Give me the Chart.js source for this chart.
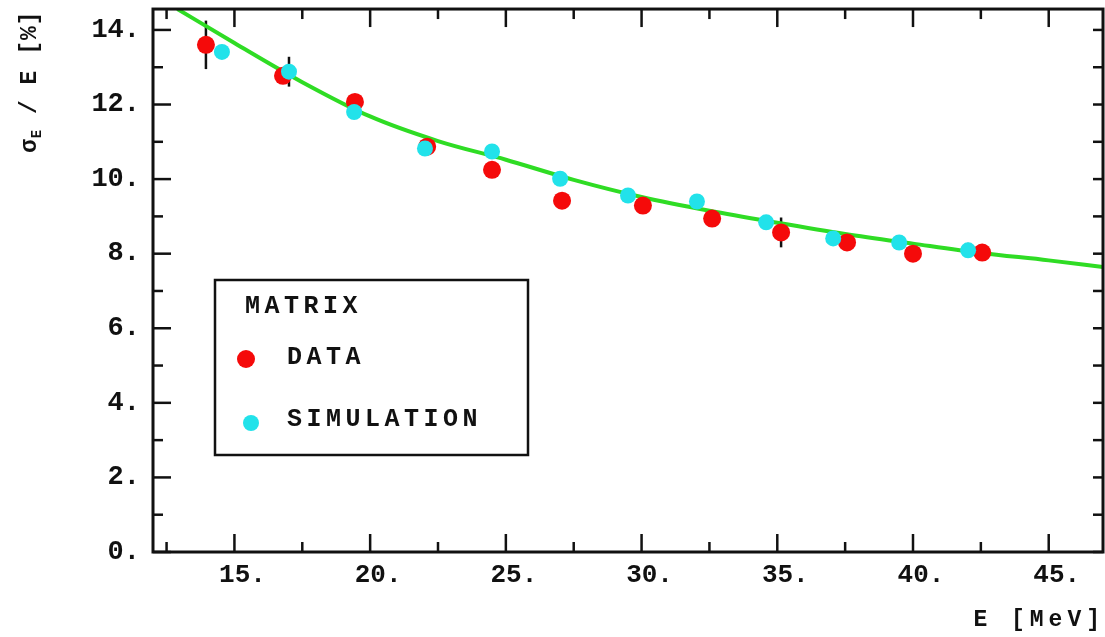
<!DOCTYPE html>
<html lang="en">
<head>
    <meta charset="UTF-8">
    <title>Energy resolution vs E</title>
    <script src="https://cdn.jsdelivr.net/npm/chart.js"></script>
    <style>
        body { margin: 0; background: #fff; }
        canvas { display: block; }
    </style>
</head>
<body>
    <canvas id="resChart" width="1105" height="637"></canvas>

    <script>
        // values
        const dataE = [13.95, 16.79, 19.44, 22.1, 24.49, 27.07, 30.05, 32.6, 35.14, 37.57, 40.0, 42.55];
        const dataSigma = [13.6, 12.77, 12.07, 10.87, 10.25, 9.42, 9.29, 8.94, 8.57, 8.30, 8.0, 8.03];
        const dataErr = [0.65, 0.2, 0.2, 0.15, 0.1, 0.1, 0.1, 0.1, 0.4, 0.1, 0.1, 0.1];

        const simE = [14.54, 17.01, 19.41, 22.02, 24.49, 27.0, 29.5, 32.04, 34.59, 37.06, 39.49, 42.03];
        const simSigma = [13.41, 12.88, 11.8, 10.82, 10.74, 10.01, 9.56, 9.40, 8.84, 8.41, 8.30, 8.09];
        const simErr = [0.15, 0.4, 0.15, 0.2, 0.2, 0.15, 0.15, 0.15, 0.12, 0.1, 0.12, 0.2];

        // green fit curve, read at a few energies
        const fitE = [12.9, 15, 17.5, 20, 22.5, 25, 27.5, 30, 32.5, 35, 37.5, 40, 42.5, 45, 47];
        const fitSigma = [14.56, 13.65, 12.6, 11.68, 11.02, 10.52, 9.98, 9.52, 9.15, 8.83, 8.53, 8.27, 8.02, 7.82, 7.64];

        const xTicks = [15, 20, 25, 30, 35, 40, 45];
        const xMinor = [12.5, 17.5, 22.5, 27.5, 32.5, 37.5, 42.5];
        const yTicks = [0, 2, 4, 6, 8, 10, 12, 14];
        const yMinor = [1, 3, 5, 7, 9, 11, 13];

        const RED = "#f50a0a";
        const CYAN = "#22e2ea";
        const GREEN = "#2fdc24";
        const MONO = "'Liberation Mono', 'DejaVu Sans Mono', monospace";

        function toPoints(xs, ys) {
            return xs.map((x, i) => ({ x: x, y: ys[i] }));
        }

        // error bars, frame and inward ticks
        const framePlugin = {
            id: "frame",
            beforeDatasetsDraw(chart) {
                const ctx = chart.ctx;
                const xs = chart.scales.x, ys = chart.scales.y;
                ctx.save();
                ctx.strokeStyle = "#111";
                ctx.lineWidth = 2.5;
                const bars = [[dataE, dataSigma, dataErr], [simE, simSigma, simErr]];
                bars.forEach(([ex, sv, er]) => {
                    ex.forEach((e, i) => {
                        const px = xs.getPixelForValue(e);
                        ctx.beginPath();
                        ctx.moveTo(px, ys.getPixelForValue(sv[i] - er[i]));
                        ctx.lineTo(px, ys.getPixelForValue(sv[i] + er[i]));
                        ctx.stroke();
                    });
                });
                ctx.restore();
            },
            afterDraw(chart) {
                const ctx = chart.ctx;
                const a = chart.chartArea;
                const xs = chart.scales.x, ys = chart.scales.y;
                ctx.save();
                ctx.strokeStyle = "#111";
                ctx.lineWidth = 3;
                ctx.strokeRect(a.left, a.top, a.right - a.left, a.bottom - a.top);
                ctx.lineWidth = 2.5;
                const line = (x1, y1, x2, y2) => {
                    ctx.beginPath(); ctx.moveTo(x1, y1); ctx.lineTo(x2, y2); ctx.stroke();
                };
                xTicks.forEach(v => {
                    const px = xs.getPixelForValue(v);
                    line(px, a.bottom, px, a.bottom - 18);
                    line(px, a.top, px, a.top + 18);
                });
                xMinor.forEach(v => {
                    const px = xs.getPixelForValue(v);
                    line(px, a.bottom, px, a.bottom - 10);
                    line(px, a.top, px, a.top + 10);
                });
                yTicks.forEach(v => {
                    const py = ys.getPixelForValue(v);
                    line(a.left, py, a.left + 18, py);
                    line(a.right, py, a.right - 10, py);
                });
                yMinor.forEach(v => {
                    const py = ys.getPixelForValue(v);
                    line(a.left, py, a.left + 10, py);
                    line(a.right, py, a.right - 10, py);
                });

                // axis titles
                ctx.fillStyle = "#111";
                ctx.letterSpacing = "5px";
                ctx.font = "bold 23px " + MONO;
                ctx.textAlign = "right";
                ctx.textBaseline = "middle";
                ctx.fillText("E [MeV]", 1105, 620);

                ctx.save();
                ctx.translate(36, 153);
                ctx.rotate(-Math.PI / 2);
                ctx.letterSpacing = "1px";
                ctx.textAlign = "left";
                ctx.textBaseline = "alphabetic";
                ctx.font = "bold 23px " + MONO;
                ctx.fillText("σ", 0, 0);
                let w = ctx.measureText("σ").width;
                ctx.font = "bold 14px " + MONO;
                ctx.fillText("E", w, 5);
                w += ctx.measureText("E").width;
                ctx.font = "bold 23px " + MONO;
                ctx.fillText(" / E [%]", w, 0);
                ctx.restore();

                // legend box
                ctx.lineWidth = 2.5;
                ctx.strokeRect(215, 280, 313, 175);
                ctx.letterSpacing = "4.5px";
                ctx.font = "bold 25px " + MONO;
                ctx.textAlign = "left";
                ctx.textBaseline = "middle";
                ctx.fillText("MATRIX", 245, 307);
                ctx.fillText("DATA", 287, 358);
                ctx.fillText("SIMULATION", 287, 420);
                ctx.fillStyle = RED;
                ctx.beginPath(); ctx.arc(246, 359, 9, 0, Math.PI * 2); ctx.fill();
                ctx.fillStyle = CYAN;
                ctx.beginPath(); ctx.arc(251, 423, 8, 0, Math.PI * 2); ctx.fill();
                ctx.restore();
            }
        };

        new Chart(document.getElementById("resChart"), {
            type: "scatter",
            data: {
                datasets: [
                    {
                        label: "DATA",
                        data: toPoints(dataE, dataSigma),
                        backgroundColor: RED,
                        borderWidth: 0,
                        pointRadius: 9,
                        order: 1
                    },
                    {
                        label: "SIMULATION",
                        data: toPoints(simE, simSigma),
                        backgroundColor: CYAN,
                        borderWidth: 0,
                        pointRadius: 8,
                        order: 0
                    },
                    {
                        type: "line",
                        label: "fit",
                        data: toPoints(fitE, fitSigma),
                        borderColor: GREEN,
                        borderWidth: 4,
                        pointRadius: 0,
                        fill: false,
                        cubicInterpolationMode: "monotone",
                        order: 2
                    }
                ]
            },
            options: {
                responsive: false,
                animation: false,
                layout: { autoPadding: false, padding: { left: 0, right: 2, top: 0, bottom: 45 } },
                plugins: {
                    legend: { display: false },
                    tooltip: { enabled: false }
                },
                scales: {
                    x: {
                        type: "linear",
                        min: 12,
                        max: 47,
                        grid: { display: false },
                        border: { display: false },
                        afterBuildTicks: s => { s.ticks = xTicks.map(v => ({ value: v })); },
                        afterFit: s => { s.height = 40; },
                        ticks: {
                            color: "#111",
                            font: { family: MONO, size: 26, weight: "bold" },
                            padding: 0,
                            labelOffset: 8,
                            maxRotation: 0,
                            callback: v => v + "."
                        }
                    },
                    y: {
                        min: 0,
                        max: 14.56,
                        grid: { display: false },
                        border: { display: false },
                        afterBuildTicks: s => { s.ticks = yTicks.map(v => ({ value: v })); },
                        afterFit: s => { s.width = 153; },
                        ticks: {
                            color: "#111",
                            font: { family: MONO, size: 27, weight: "bold", lineHeight: 0.3 },
                            padding: 5,
                            callback: v => v + "."
                        }
                    }
                }
            },
            plugins: [framePlugin]
        });
    </script>
</body>
</html>
